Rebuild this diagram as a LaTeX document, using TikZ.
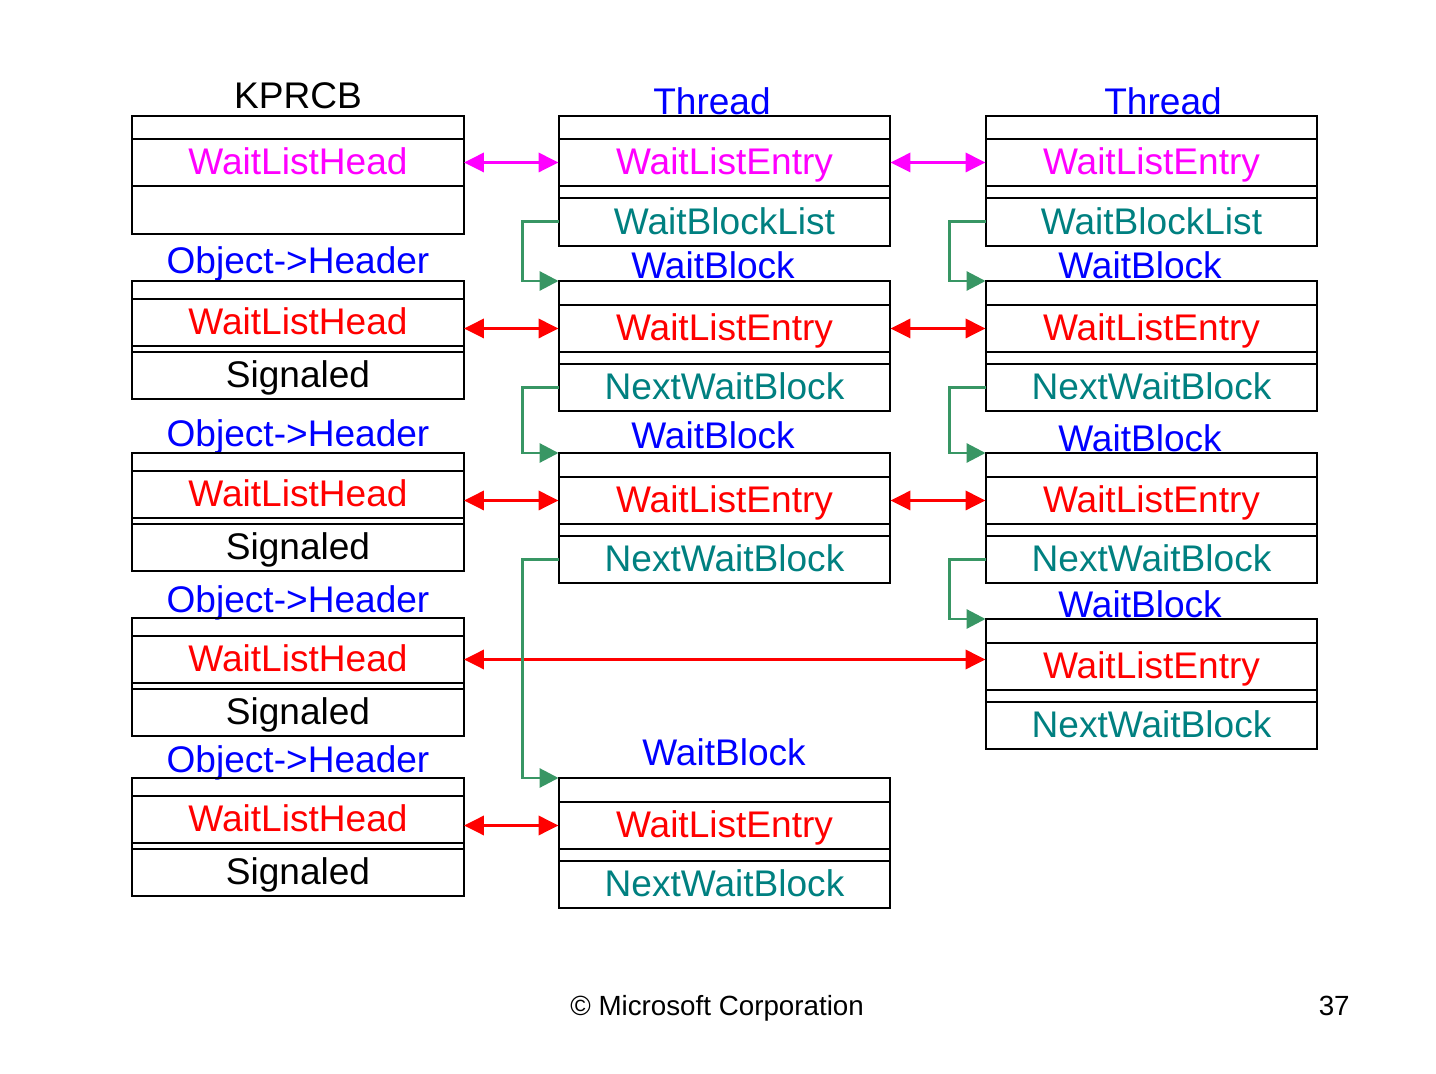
\documentclass[tikz,border=0pt]{standalone}
\usepackage{fontspec}
\setmainfont{Liberation Sans}
\usepackage{tikz}
\definecolor{wlmag}{RGB}{255,0,255}
\definecolor{wlred}{RGB}{255,0,0}
\definecolor{wlblue}{RGB}{0,0,255}
\definecolor{wlteal}{RGB}{0,128,128}
\definecolor{wlgreen}{RGB}{56,150,100}
\tikzset{cell/.style={draw,line width=1.15pt,minimum width=6.64cm,inner sep=0pt,outer sep=0pt,text height=0.5cm,text depth=0pt},
	gap cell/.style={cell,text height=0pt},
	title node/.style={anchor=base,inner sep=0pt},
	dbl link/.style={line width=2pt,{Triangle[length=0.4cm,width=0.38cm]}-{Triangle[length=0.4cm,width=0.38cm]}},
	wb link/.style={wlgreen,line width=1.7pt,-{Triangle[length=0.38cm,width=0.38cm]}},
}
\usetikzlibrary{positioning,arrows.meta}

\begin{document}
\begin{tikzpicture}[font=\fontsize{21.1}{24}\selectfont]
			\begin{scope}[x=0.02cm,y=-0.02cm]
			\useasboundingbox (0,0) rectangle (1436,1074);
			
			%% KPRCB
			\node[title node] (kprcb) at (298,109) {KPRCB};
			\node[gap cell,minimum height=0.46cm,anchor=north] (k1) at (298,116) {};
			\node[cell,minimum height=0.94cm,text=wlmag] (kwlh) [below=0pt of k1] {WaitListHead};
			\node[gap cell,minimum height=0.96cm] (k3) [below=0pt of kwlh] {};
			
			%% dispatcher headers
			\node[title node,text=wlblue] (hd1) at (298,274) {Object->Header};
			\node[gap cell,minimum height=0.36cm,anchor=north] (h1a) at (298,281) {};
			\node[cell,minimum height=0.94cm,text=wlred] (h1wlh) [below=0pt of h1a] {WaitListHead};
			\node[gap cell,minimum height=0.12cm] (h1c) [below=0pt of h1wlh] {};
			\node[cell,minimum height=0.94cm] (h1sig) [below=0pt of h1c] {Signaled};
			
			\node[title node,text=wlblue] (hd2) at (298,446) {Object->Header};
			\node[gap cell,minimum height=0.36cm,anchor=north] (h2a) at (298,453) {};
			\node[cell,minimum height=0.94cm,text=wlred] (h2wlh) [below=0pt of h2a] {WaitListHead};
			\node[gap cell,minimum height=0.12cm] (h2c) [below=0pt of h2wlh] {};
			\node[cell,minimum height=0.94cm] (h2sig) [below=0pt of h2c] {Signaled};
			
			\node[title node,text=wlblue] (hd3) at (298,612) {Object->Header};
			\node[gap cell,minimum height=0.36cm,anchor=north] (h3a) at (298,618) {};
			\node[cell,minimum height=0.94cm,text=wlred] (h3wlh) [below=0pt of h3a] {WaitListHead};
			\node[gap cell,minimum height=0.12cm] (h3c) [below=0pt of h3wlh] {};
			\node[cell,minimum height=0.94cm] (h3sig) [below=0pt of h3c] {Signaled};
			
			\node[title node,text=wlblue] (hd4) at (298,772) {Object->Header};
			\node[gap cell,minimum height=0.36cm,anchor=north] (h4a) at (298,778) {};
			\node[cell,minimum height=0.94cm,text=wlred] (h4wlh) [below=0pt of h4a] {WaitListHead};
			\node[gap cell,minimum height=0.12cm] (h4c) [below=0pt of h4wlh] {};
			\node[cell,minimum height=0.94cm] (h4sig) [below=0pt of h4c] {Signaled};
			
			%% threads
			\node[title node,text=wlblue] (th1) at (712,115) {Thread};
			\node[gap cell,minimum height=0.46cm,anchor=north] (t1a) at (724.5,116) {};
			\node[cell,minimum height=0.94cm,text=wlmag] (t1wle) [below=0pt of t1a] {WaitListEntry};
			\node[gap cell,minimum height=0.24cm] (t1c) [below=0pt of t1wle] {};
			\node[cell,minimum height=0.96cm,text=wlteal] (t1wbl) [below=0pt of t1c] {WaitBlockList};
			
			\node[title node,text=wlblue] (th2) at (1163,115) {Thread};
			\node[gap cell,minimum height=0.46cm,anchor=north] (t2a) at (1151.5,116) {};
			\node[cell,minimum height=0.94cm,text=wlmag] (t2wle) [below=0pt of t2a] {WaitListEntry};
			\node[gap cell,minimum height=0.24cm] (t2c) [below=0pt of t2wle] {};
			\node[cell,minimum height=0.96cm,text=wlteal] (t2wbl) [below=0pt of t2c] {WaitBlockList};
			
			%% wait blocks of the first thread
			\node[title node,text=wlblue] (mb1) at (713,279) {WaitBlock};
			\node[gap cell,minimum height=0.48cm,anchor=north] (m1a) at (724.5,281) {};
			\node[cell,minimum height=0.94cm,text=wlred] (m1wle) [below=0pt of m1a] {WaitListEntry};
			\node[gap cell,minimum height=0.24cm] (m1c) [below=0pt of m1wle] {};
			\node[cell,minimum height=0.94cm,text=wlteal] (m1nwb) [below=0pt of m1c] {NextWaitBlock};
			
			\node[title node,text=wlblue] (mb2) at (713,448) {WaitBlock};
			\node[gap cell,minimum height=0.48cm,anchor=north] (m2a) at (724.5,453) {};
			\node[cell,minimum height=0.94cm,text=wlred] (m2wle) [below=0pt of m2a] {WaitListEntry};
			\node[gap cell,minimum height=0.24cm] (m2c) [below=0pt of m2wle] {};
			\node[cell,minimum height=0.94cm,text=wlteal] (m2nwb) [below=0pt of m2c] {NextWaitBlock};
			
			\node[title node,text=wlblue] (mb3) at (724,765) {WaitBlock};
			\node[gap cell,minimum height=0.48cm,anchor=north] (m3a) at (724.5,778) {};
			\node[cell,minimum height=0.94cm,text=wlred] (m3wle) [below=0pt of m3a] {WaitListEntry};
			\node[gap cell,minimum height=0.24cm] (m3c) [below=0pt of m3wle] {};
			\node[cell,minimum height=0.94cm,text=wlteal] (m3nwb) [below=0pt of m3c] {NextWaitBlock};
			
			%% wait blocks of the second thread
			\node[title node,text=wlblue] (rb1) at (1140,279) {WaitBlock};
			\node[gap cell,minimum height=0.48cm,anchor=north] (r1a) at (1151.5,281) {};
			\node[cell,minimum height=0.94cm,text=wlred] (r1wle) [below=0pt of r1a] {WaitListEntry};
			\node[gap cell,minimum height=0.24cm] (r1c) [below=0pt of r1wle] {};
			\node[cell,minimum height=0.94cm,text=wlteal] (r1nwb) [below=0pt of r1c] {NextWaitBlock};
			
			\node[title node,text=wlblue] (rb2) at (1140,451) {WaitBlock};
			\node[gap cell,minimum height=0.48cm,anchor=north] (r2a) at (1151.5,453) {};
			\node[cell,minimum height=0.94cm,text=wlred] (r2wle) [below=0pt of r2a] {WaitListEntry};
			\node[gap cell,minimum height=0.24cm] (r2c) [below=0pt of r2wle] {};
			\node[cell,minimum height=0.94cm,text=wlteal] (r2nwb) [below=0pt of r2c] {NextWaitBlock};
			
			\node[title node,text=wlblue] (rb3) at (1140,617) {WaitBlock};
			\node[gap cell,minimum height=0.48cm,anchor=north] (r3a) at (1151.5,619) {};
			\node[cell,minimum height=0.94cm,text=wlred] (r3wle) [below=0pt of r3a] {WaitListEntry};
			\node[gap cell,minimum height=0.24cm] (r3c) [below=0pt of r3wle] {};
			\node[cell,minimum height=0.94cm,text=wlteal] (r3nwb) [below=0pt of r3c] {NextWaitBlock};
			
			%% wait list links
			\draw[dbl link,wlmag] (kwlh.east) -- (t1wle.west);
			\draw[dbl link,wlmag] (t1wle.east) -- (t2wle.west);
			\draw[dbl link,wlred] (h1wlh.east |- m1wle.west) -- (m1wle.west);
			\draw[dbl link,wlred] (m1wle.east) -- (r1wle.west);
			\draw[dbl link,wlred] (h2wlh.east |- m2wle.west) -- (m2wle.west);
			\draw[dbl link,wlred] (m2wle.east) -- (r2wle.west);
			\draw[dbl link,wlred] (h3wlh.east) -- (h3wlh.east -| r3wle.west);
			\draw[dbl link,wlred] (h4wlh.east |- m3wle.west) -- (m3wle.west);
			
			%% wait block chains
			\draw[wb link] (t1wbl.west) -- ++(-36,0) |- (m1a.north west);
			\draw[wb link] (m1nwb.west) -- ++(-36,0) |- (m2a.north west);
			\draw[wb link] (m2nwb.west) -- ++(-36,0) |- (m3a.north west);
			\draw[wb link] (t2wbl.west) -- ++(-36,0) |- (r1a.north west);
			\draw[wb link] (r1nwb.west) -- ++(-36,0) |- (r2a.north west);
			\draw[wb link] (r2nwb.west) -- ++(-36,0) |- (r3a.north west);
			
			%% footer
			\node[anchor=base west,inner sep=0pt,font=\fontsize{15.8}{18}\selectfont] (copy) at (570,1015) {© Microsoft Corporation};
			\node[anchor=base east,inner sep=0pt,font=\fontsize{15.8}{18}\selectfont] (pgno) at (1350,1015) {37};
			\end{scope}
			\end{tikzpicture}
\end{document}
